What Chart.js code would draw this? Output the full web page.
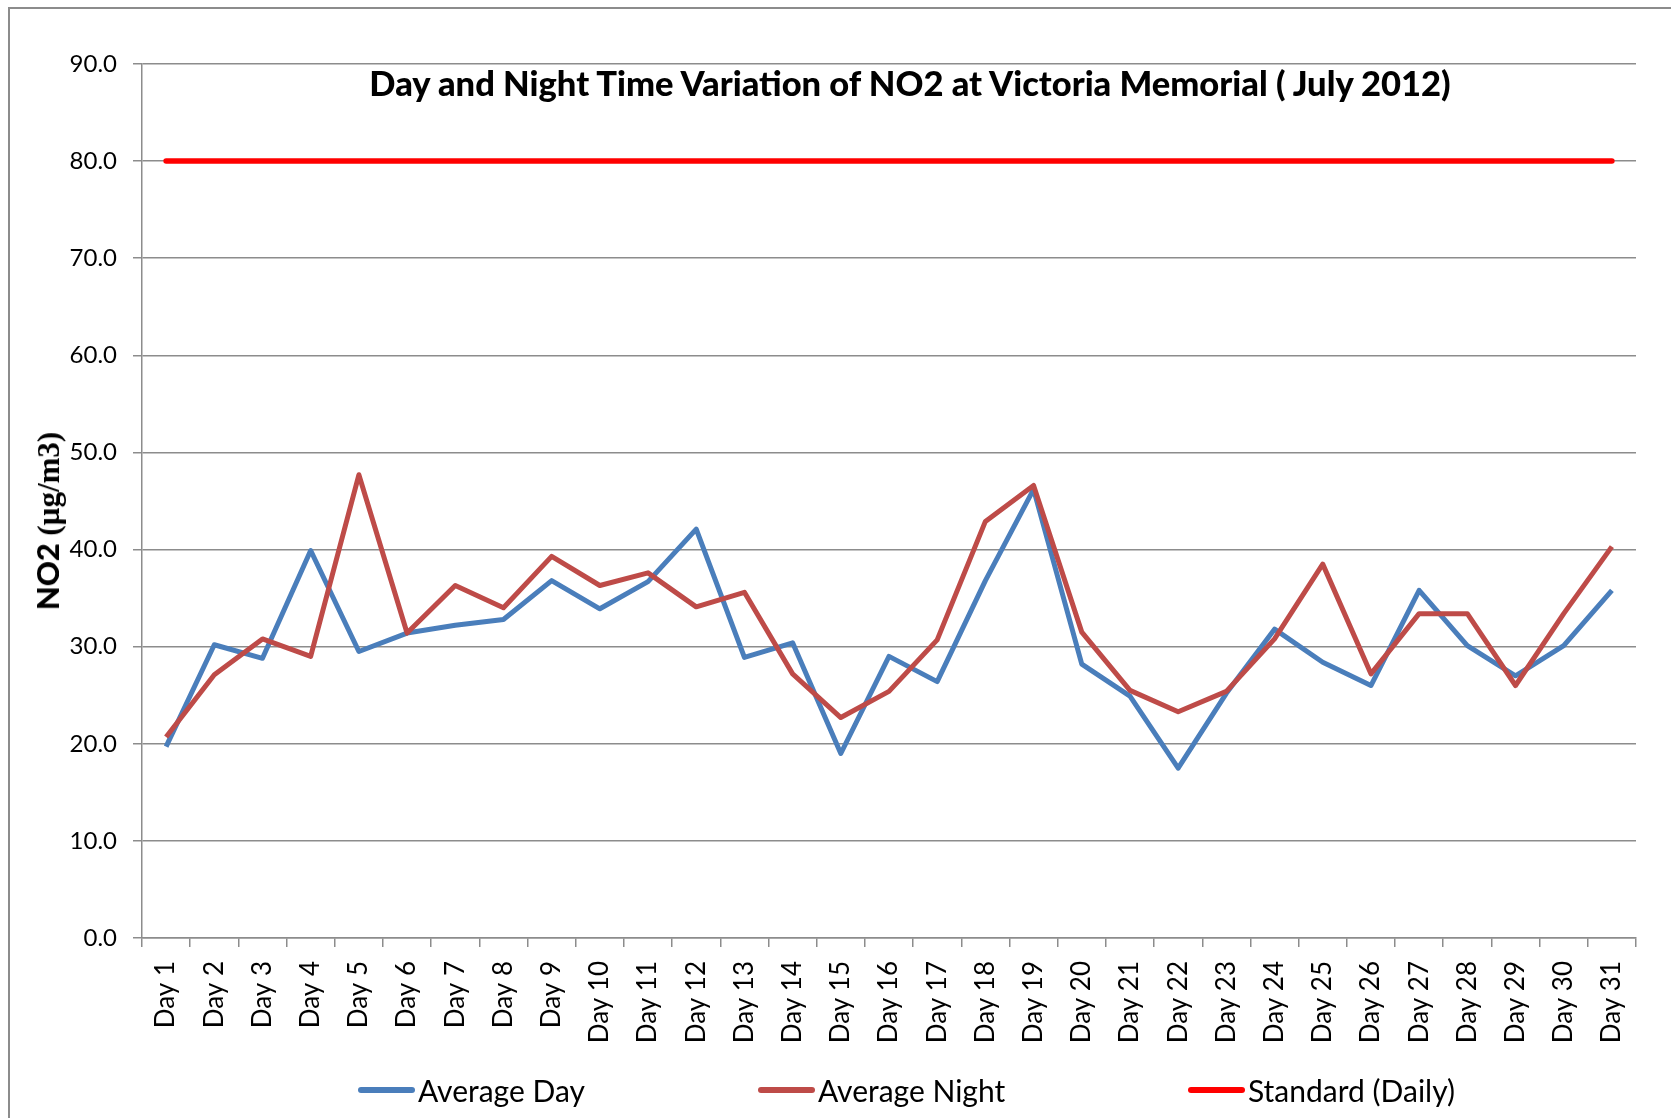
<!DOCTYPE html>
<html>
<head>
<meta charset="utf-8">
<title>NO2 Victoria Memorial July 2012</title>
<script src="https://cdn.jsdelivr.net/npm/chart.js@4.4.1/dist/chart.umd.min.js"></script>
<style>
  html, body { margin:0; padding:0; background:#fff; overflow:hidden; }
  #wrap { position:relative; width:1671px; height:1118px; font-family:Lato, "Noto Sans", sans-serif; color:#000; }
  #frame { position:absolute; left:8px; top:7px; width:1720px; height:1200px; border:2px solid #8c8c8c; box-sizing:border-box; }
  #no2Chart { position:absolute; left:0; top:0; }
  #chartTitle { position:absolute; left:910px; top:62px; transform:translateX(-50%); white-space:nowrap;
                font-weight:900; font-size:34.5px; line-height:42px; }
  #yTitle { position:absolute; left:48px; top:521px; transform:translate(-50%,-50%) rotate(-90deg);
            white-space:nowrap; font-weight:900; font-size:31px; line-height:34px; }
  #yTitle .unit { font-family:"Liberation Serif", "DejaVu Serif", serif; font-weight:700; }
  #legend { position:absolute; left:0; top:1071px; width:1671px; height:38px; }
  .lg-item { position:absolute; top:0; display:flex; align-items:center; height:38px; font-size:30px; white-space:nowrap; }
  .lg-line { width:57px; height:6px; border-radius:3px; margin-right:3px; }
</style>
</head>
<body>
<div id="wrap">
  <div id="frame"></div>
  <canvas id="no2Chart" width="1671" height="1118"></canvas>
  <div id="chartTitle">Day and Night Time Variation of NO2 at Victoria Memorial ( July 2012)</div>
  <div id="yTitle">NO2 <span class="unit">(µg/m3)</span></div>
  <div id="legend"></div>
</div>

<script>
// ===== data =====
const days = ["Day 1","Day 2","Day 3","Day 4","Day 5","Day 6","Day 7","Day 8","Day 9","Day 10",
  "Day 11","Day 12","Day 13","Day 14","Day 15","Day 16","Day 17","Day 18","Day 19","Day 20",
  "Day 21","Day 22","Day 23","Day 24","Day 25","Day 26","Day 27","Day 28","Day 29","Day 30","Day 31"];

const avgDay = [19.7, 30.2, 28.8, 39.9, 29.5, 31.4, 32.2, 32.8, 36.8, 33.9,
  36.7, 42.1, 28.9, 30.4, 19.0, 29.0, 26.4, 36.8, 46.2, 28.2,
  24.9, 17.5, 25.2, 31.8, 28.4, 26.0, 35.8, 30.1, 27.0, 30.1, 35.8];

const avgNight = [20.7, 27.1, 30.8, 29.0, 47.7, 31.4, 36.3, 34.0, 39.3, 36.3,
  37.6, 34.1, 35.6, 27.2, 22.7, 25.4, 30.7, 42.9, 46.6, 31.5,
  25.5, 23.3, 25.4, 30.8, 38.5, 27.2, 33.4, 33.4, 26.0, 33.4, 40.3];

const standardDaily = [80, 80, 80, 80, 80, 80, 80, 80, 80, 80,
  80, 80, 80, 80, 80, 80, 80, 80, 80, 80,
  80, 80, 80, 80, 80, 80, 80, 80, 80, 80, 80];

const yMin = 0, yMax = 90, yStep = 10;

// legend item left edges (layout only)
const legendLeft = [358, 758, 1188];

const GRID = '#8c8c8c';

// ===== chart =====
const ctx = document.getElementById("no2Chart");

const chart = new Chart(ctx, {
  type: 'line',
  data: {
    labels: days,
    datasets: [
      { label: "Average Day", data: avgDay, borderColor: '#4A7EBB', backgroundColor: '#4A7EBB',
        borderWidth: 5, order: 2 },
      { label: "Average Night", data: avgNight, borderColor: '#BE4B48', backgroundColor: '#BE4B48',
        borderWidth: 5, order: 1 },
      { label: "Standard (Daily)", data: standardDaily, borderColor: '#FF0000', backgroundColor: '#FF0000',
        borderWidth: 5.5, borderCapStyle: 'round', order: 3 }
    ]
  },
  options: {
    responsive: false,
    animation: false,
    devicePixelRatio: 1,
    elements: {
      point: { radius: 0, hoverRadius: 0 },
      line: { tension: 0, borderJoinStyle: 'round', fill: false }
    },
    layout: { padding: { left: 0, top: 64, right: 35, bottom: 60 } },
    plugins: {
      legend: { display: false },
      title: { display: false },
      tooltip: { enabled: false }
    },
    scales: {
      x: {
        offset: true,
        grid: { display: true, drawOnChartArea: false, drawTicks: true, tickLength: 9,
                color: GRID, lineWidth: 1.5, offset: true },
        border: { display: true, color: GRID, width: 1.5 },
        ticks: {
          color: '#000', autoSkip: false, minRotation: 90, maxRotation: 90, padding: 14,
          font: { family: 'Lato', size: 26 }
        },
        afterFit(scale) { scale.height = 120; }
      },
      y: {
        min: yMin, max: yMax,
        grid: { color: GRID, lineWidth: 1.5, tickLength: 9 },
        border: { display: true, color: GRID, width: 1.5 },
        ticks: {
          stepSize: yStep, color: '#000', padding: 16,
          font: { family: 'Lato', size: 24 },
          callback: v => Number(v).toFixed(1)
        },
        afterFit(scale) { scale.width = 142; }
      }
    }
  }
});

// ===== legend (built from the chart datasets) =====
const legendBox = document.getElementById("legend");
chart.data.datasets.forEach((ds, i) => {
  const item = document.createElement("div");
  item.className = "lg-item";
  item.style.left = legendLeft[i] + "px";
  const line = document.createElement("span");
  line.className = "lg-line";
  line.style.background = ds.borderColor;
  const txt = document.createElement("span");
  txt.textContent = ds.label;
  item.appendChild(line);
  item.appendChild(txt);
  legendBox.appendChild(item);
});
</script>
</body>
</html>
